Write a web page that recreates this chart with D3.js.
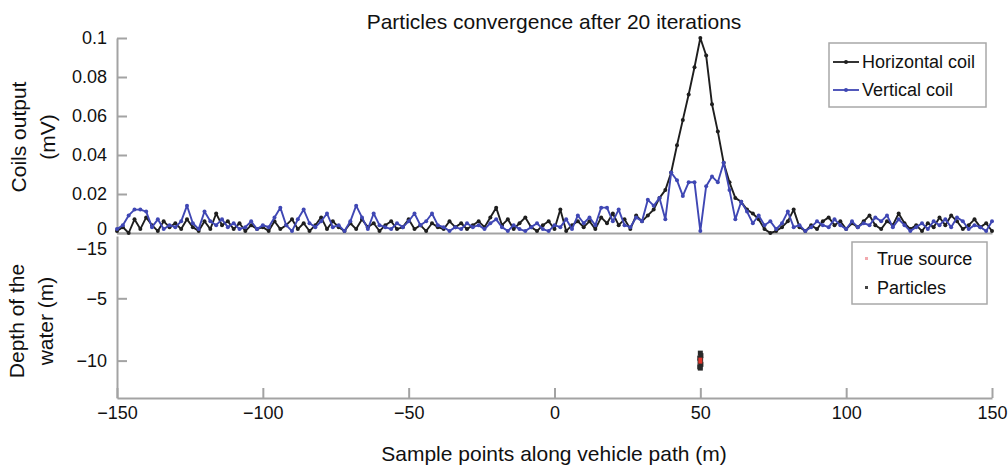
<!DOCTYPE html>
<html>
<head>
<meta charset="utf-8">
<script src="https://cdn.jsdelivr.net/npm/d3@7"></script>
<style>
    body { margin: 0; background: #fff; }
    svg text { font-family: "Liberation Sans", Arial, sans-serif; fill: #111; }
</style>
</head>
<body>
<svg id="chart"></svg>
<script>
// sample positions along the path (m), one every 2 m
const samplePoints = d3.range(-150, 151, 2);

// coil outputs (mV)
const horizontalCoil = [
    0.001, 0.003, 0.000, 0.007, 0.002, 0.008, 0.004, 0.001, 0.006, 0.003,
    0.005, 0.002, 0.007, 0.003, 0.001, 0.006, 0.002, 0.010, 0.004, 0.006,
    0.002, 0.005, 0.001, 0.004, 0.002, 0.003, 0.001, 0.006, 0.002, 0.004,
    0.007, 0.002, 0.005, 0.001, 0.004, 0.008, 0.002, 0.006, 0.003, 0.001,
    0.005, 0.002, 0.007, 0.003, 0.005, 0.001, 0.004, 0.006, 0.002, 0.003,
    0.007, 0.002, 0.004, 0.001, 0.005, 0.003, 0.002, 0.006, 0.003, 0.005,
    0.002, 0.004, 0.006, 0.003, 0.008, 0.013, 0.004, 0.007, 0.002, 0.005,
    0.008, 0.003, 0.001, 0.004, 0.006, 0.002, 0.012, 0.001, 0.004, 0.006,
    0.003, 0.006, 0.002, 0.008, 0.005, 0.010, 0.004, 0.007, 0.002, 0.009,
    0.006, 0.009, 0.012, 0.018, 0.022, 0.031, 0.045, 0.058, 0.071, 0.085,
    0.100, 0.091, 0.066, 0.052, 0.036, 0.026, 0.018, 0.016, 0.012, 0.010,
    0.007, 0.002, 0.000, 0.001, 0.003, 0.006, 0.012, 0.003, 0.001, 0.004,
    0.002, 0.006, 0.008, 0.004, 0.006, 0.002, 0.005, 0.003, 0.006, 0.009,
    0.004, 0.002, 0.006, 0.004, 0.010, 0.005, 0.002, 0.004, 0.001, 0.005,
    0.003, 0.008, 0.004, 0.009, 0.006, 0.002, 0.004, 0.007, 0.003, 0.005,
    0.001
];

const verticalCoil = [
    0.002, 0.004, 0.009, 0.012, 0.012, 0.011, 0.003, 0.007, 0.002, 0.004,
    0.003, 0.006, 0.014, 0.005, 0.002, 0.011, 0.006, 0.004, 0.007, 0.003,
    0.005, 0.002, 0.003, 0.006, 0.002, 0.004, 0.003, 0.008, 0.013, 0.004,
    0.001, 0.007, 0.012, 0.005, 0.003, 0.006, 0.010, 0.003, 0.004, 0.001,
    0.006, 0.014, 0.008, 0.002, 0.010, 0.004, 0.003, 0.002, 0.005, 0.003,
    0.006, 0.010, 0.004, 0.006, 0.010, 0.004, 0.003, 0.001, 0.003, 0.002,
    0.005, 0.003, 0.004, 0.002, 0.005, 0.007, 0.003, 0.001, 0.004, 0.002,
    0.001, 0.003, 0.005, 0.002, 0.001, 0.004, 0.003, 0.007, 0.002, 0.009,
    0.005, 0.008, 0.004, 0.013, 0.013, 0.006, 0.012, 0.004, 0.003, 0.008,
    0.006, 0.017, 0.014, 0.018, 0.007, 0.031, 0.027, 0.019, 0.026, 0.026,
    0.001, 0.024, 0.029, 0.026, 0.036, 0.022, 0.007, 0.016, 0.011, 0.005,
    0.009, 0.004, 0.006, 0.002, 0.005, 0.011, 0.003, 0.004, 0.001, 0.003,
    0.006, 0.004, 0.003, 0.007, 0.004, 0.002, 0.006, 0.003, 0.005, 0.004,
    0.008, 0.006, 0.009, 0.003, 0.007, 0.004, 0.001, 0.003, 0.005, 0.002,
    0.006, 0.004, 0.007, 0.003, 0.008, 0.006, 0.002, 0.004, 0.003, 0.001,
    0.006
];

// particle positions after 20 iterations (x m, depth m)
const particleX = [50.0, 50.2, 49.8, 50.1, 49.9, 50.2, 49.8, 50.0];
const particleDepth = [-9.4, -9.6, -9.8, -9.9, -10.1, -10.3, -10.5, -10.6];
const trueSource = [50, -10];

const xTicks = [-150, -100, -50, 0, 50, 100, 150];
const coilTicks = [0, 0.02, 0.04, 0.06, 0.08, 0.1];
const depthTicks = [-0.8, -5, -10];
const depthTickLabels = ["\u221215", "\u22125", "\u221210"];

const seriesNames = ["Horizontal coil", "Vertical coil"];
const seriesColors = ["#1e1e1e", "#3f47b4"];

const config = {
    width: 1008, height: 473,
    left: 117, right: 992,
    topPanel: [38, 233],     // y of 0.1 and 0
    botPanel: [236, 398],    // y of depth 0 and bottom axis
    axisColor: "#a3a3a3",
    tickFont: 18
};

const svg = d3.select("#chart")
    .attr("width", config.width)
    .attr("height", config.height);

const x = d3.scaleLinear().domain([-150, 150]).range([config.left, config.right]);
const yCoil = d3.scaleLinear().domain([0, 0.1]).range([config.topPanel[1], config.topPanel[0]]);
const yDepth = d3.scaleLinear().domain([0, -13]).range(config.botPanel);

function styleAxis(g) {
    g.select(".domain").attr("stroke", config.axisColor).attr("stroke-width", 2);
    g.selectAll(".tick line").attr("stroke", config.axisColor).attr("stroke-width", 2);
    g.selectAll("text").attr("font-size", config.tickFont).attr("fill", "#111")
        .attr("font-family", '"Liberation Sans", Arial, sans-serif');
}

// top panel axes
svg.append("g")
    .attr("transform", `translate(${config.left},0)`)
    .call(d3.axisLeft(yCoil).tickValues(coilTicks).tickSize(-10).tickSizeOuter(0).tickPadding(10)
        .tickFormat(d => d === 0 ? "0" : String(+d.toFixed(2))))
    .call(styleAxis)
    .call(g => g.selectAll(".tick").filter(d => d === 0).select("text").attr("y", -4));

svg.append("g")
    .attr("transform", `translate(0,${config.topPanel[1]})`)
    .call(d3.axisBottom(x).tickValues([]).tickSizeOuter(0))
    .call(styleAxis);

// bottom panel axes
svg.append("g")
    .attr("transform", `translate(${config.left},0)`)
    .call(d3.axisLeft(yDepth).tickValues(depthTicks).tickSize(-10).tickSizeOuter(0).tickPadding(10)
        .tickFormat((d, i) => depthTickLabels[i]))
    .call(styleAxis)
    .call(g => g.selectAll(".tick").filter((d, i) => i === 0).select("line").remove())
    .call(g => g.selectAll(".tick").filter((d, i) => i === 0).select("text").attr("y", 3));

svg.append("g")
    .attr("transform", `translate(0,${config.botPanel[1]})`)
    .call(d3.axisBottom(x).tickValues(xTicks).tickSize(-10).tickSizeOuter(0).tickPadding(8)
        .tickFormat(d => d < 0 ? "\u2212" + Math.abs(d) : d))
    .call(styleAxis);

// coil lines
const coilData = [horizontalCoil, verticalCoil].map(vals => samplePoints.map((p, i) => ({ms: p, value: vals[i]})));
const line = d3.line().x(d => x(d.ms)).y(d => yCoil(d.value));

coilData.forEach((data, k) => {
    svg.append("path")
        .datum(data)
        .attr("fill", "none")
        .attr("stroke", seriesColors[k])
        .attr("stroke-width", 1.9)
        .attr("stroke-linejoin", "round")
        .attr("d", line);
    svg.append("g").selectAll("circle")
        .data(data)
        .join("circle")
        .attr("cx", d => x(d.ms))
        .attr("cy", d => yCoil(d.value))
        .attr("r", 2)
        .attr("fill", seriesColors[k]);
});

// particles
svg.append("g").selectAll("rect")
    .data(particleX.map((p, i) => [p, particleDepth[i]]))
    .join("rect")
    .attr("x", d => x(d[0]) - 2.5)
    .attr("y", d => yDepth(d[1]) - 2.5)
    .attr("width", 5).attr("height", 5)
    .attr("fill", "#2a2a2a");

svg.append("rect")
    .attr("x", x(trueSource[0]) - 2)
    .attr("y", yDepth(trueSource[1]) - 3)
    .attr("width", 4).attr("height", 6)
    .attr("fill", "#e0352b");

// legends
function legendBox(x0, y0, w, h) {
    svg.append("rect")
        .attr("x", x0).attr("y", y0).attr("width", w).attr("height", h)
        .attr("fill", "#fff").attr("stroke", "#a8a8a8").attr("stroke-width", 1.5);
}

legendBox(829, 43, 157, 64);
seriesNames.forEach((name, k) => {
    const ly = 62 + k * 28;
    svg.append("line").attr("x1", 833).attr("x2", 859).attr("y1", ly).attr("y2", ly)
        .attr("stroke", seriesColors[k]).attr("stroke-width", 1.8);
    svg.append("circle").attr("cx", 846).attr("cy", ly).attr("r", 2).attr("fill", seriesColors[k]);
    svg.append("text").attr("x", 862).attr("y", ly).attr("dy", "0.35em")
        .attr("font-size", 18).text(name);
});

legendBox(852, 242, 135, 62);
svg.append("rect").attr("x", 865).attr("y", 257).attr("width", 3).attr("height", 3).attr("fill", "#f2a9ae");
svg.append("text").attr("x", 877).attr("y", 259).attr("dy", "0.35em").attr("font-size", 18).text("True source");
svg.append("rect").attr("x", 865).attr("y", 286).attr("width", 3).attr("height", 3).attr("fill", "#444");
svg.append("text").attr("x", 877).attr("y", 288).attr("dy", "0.35em").attr("font-size", 18).text("Particles");

// titles
svg.append("text")
    .attr("x", 554).attr("y", 22).attr("dy", "0.35em")
    .attr("text-anchor", "middle").attr("font-size", 21)
    .text("Particles convergence after 20 iterations");

svg.append("text")
    .attr("x", 554).attr("y", 454).attr("dy", "0.35em")
    .attr("text-anchor", "middle").attr("font-size", 21)
    .text("Sample points along vehicle path (m)");

function yLabel(lines, cx, cy) {
    const t = svg.append("text")
        .attr("transform", `translate(${cx},${cy}) rotate(-90)`)
        .attr("text-anchor", "middle").attr("font-size", 21);
    lines.forEach((s, i) => {
        t.append("tspan").attr("x", 0).attr("y", (i - (lines.length - 1) / 2) * 29).attr("dy", "0.35em").text(s);
    });
}
yLabel(["Coils output", "(mV)"], 33, 137);
yLabel(["Depth of the", "water (m)"], 31, 321);
</script>
</body>
</html>
